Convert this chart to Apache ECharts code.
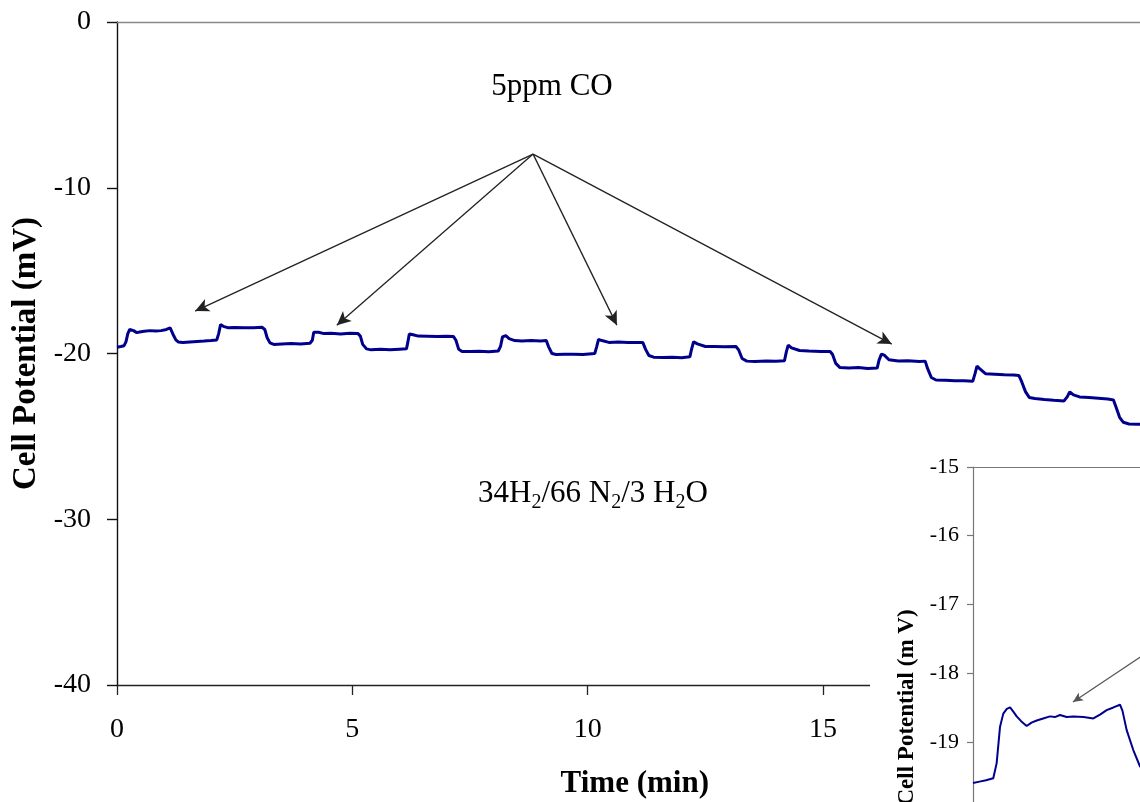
<!DOCTYPE html>
<html><head><meta charset="utf-8">
<script src="https://cdn.jsdelivr.net/npm/echarts@6/dist/echarts.min.js"></script>
<style>html,body{margin:0;padding:0;background:#fff}#c{width:1140px;height:802px}</style>
</head><body><div id="c"></div>
<script>
// ---- main trace: time (min) and cell potential (mV) ----
const timeMin = [
 0.00,0.08,0.15,0.19,0.23,0.27,0.30,0.35,0.42,0.48,0.58,0.70,0.82,0.94,1.05,1.13,1.16,1.20,1.25,1.30,
 1.40,1.55,1.70,1.85,2.00,2.12,2.16,2.20,2.26,2.35,2.50,2.70,2.90,3.08,3.14,3.19,3.25,3.33,3.50,3.70,
 3.90,4.10,4.15,4.18,4.22,4.28,4.40,4.55,4.75,4.95,5.12,5.17,5.22,5.30,5.40,5.60,5.80,6.00,6.15,6.18,
 6.21,6.27,6.40,6.60,6.80,7.00,7.15,7.20,7.26,7.33,7.50,7.70,7.90,8.10,8.15,8.19,8.26,8.33,8.45,8.60,
 8.80,9.00,9.12,9.17,9.24,9.33,9.50,9.70,9.90,10.15,10.19,10.23,10.30,10.45,10.65,10.85,11.05,11.17,11.23,11.30,
 11.40,11.60,11.80,12.00,12.17,12.21,12.25,12.33,12.50,12.70,12.90,13.15,13.21,13.28,13.38,13.55,13.80,14.00,14.18,14.22,
 14.26,14.33,14.50,14.70,14.95,15.15,15.20,15.27,15.36,15.55,15.75,15.95,16.15,16.19,16.24,16.30,16.40,16.60,16.80,17.05,
 17.17,17.22,17.30,17.40,17.60,17.80,18.00,18.18,18.23,18.27,18.32,18.45,18.65,18.85,19.05,19.16,19.22,19.30,19.38,19.50,
 19.70,19.90,20.12,20.19,20.24,20.32,20.45,20.65,20.85,21.05,21.17,21.22,21.30,21.38,21.50,21.70,21.90
];
const potentialMv = [
 -19.62,-19.58,-19.53,-19.30,-18.80,-18.55,-18.50,-18.62,-18.74,-18.70,-18.66,-18.62,-18.64,-18.62,-18.55,-18.46,-18.55,-18.90,-19.18,-19.30,
 -19.33,-19.30,-19.27,-19.25,-19.22,-19.18,-18.80,-18.26,-18.36,-18.44,-18.43,-18.45,-18.44,-18.42,-18.55,-19.05,-19.36,-19.45,-19.42,-19.40,
 -19.42,-19.38,-19.20,-18.72,-18.60,-18.72,-18.80,-18.78,-18.82,-18.78,-18.80,-18.95,-19.45,-19.72,-19.78,-19.75,-19.77,-19.74,-19.72,-19.30,
 -18.82,-18.85,-18.95,-18.96,-18.98,-18.96,-18.98,-19.20,-19.75,-19.88,-19.88,-19.86,-19.90,-19.85,-19.55,-19.00,-18.92,-19.10,-19.22,-19.25,
 -19.22,-19.24,-19.22,-19.60,-20.00,-20.06,-20.05,-20.04,-20.06,-20.00,-19.60,-19.15,-19.22,-19.33,-19.31,-19.33,-19.34,-19.33,-19.75,-20.12,
 -20.22,-20.24,-20.22,-20.25,-20.20,-19.70,-19.29,-19.42,-19.58,-19.58,-19.60,-19.58,-19.80,-20.30,-20.46,-20.48,-20.45,-20.47,-20.44,-19.90,
 -19.49,-19.66,-19.82,-19.85,-19.88,-19.88,-20.05,-20.60,-20.85,-20.88,-20.84,-20.90,-20.88,-20.40,-20.04,-20.10,-20.38,-20.45,-20.44,-20.48,
 -20.46,-20.90,-21.45,-21.60,-21.62,-21.64,-21.65,-21.68,-21.20,-20.76,-20.90,-21.22,-21.25,-21.28,-21.30,-21.32,-21.70,-22.30,-22.65,-22.72,
 -22.78,-22.82,-22.86,-22.60,-22.31,-22.50,-22.62,-22.66,-22.70,-22.75,-22.80,-23.20,-23.85,-24.15,-24.25,-24.27,-24.28
];

// ---- inset trace (first CO step, magnified) ----
const insetTimeMin = [
 0.00,0.05,0.10,0.156,0.182,0.208,0.233,0.26,0.285,0.31,0.336,0.37,0.413,0.45,0.49,0.54,0.592,0.63,0.669,0.72,
 0.772,0.85,0.926,0.98,1.028,1.08,1.131,1.15,1.182,1.233,1.285,1.35
];
const insetPotentialMv = [
 -19.60,-19.58,-19.56,-19.53,-19.31,-18.78,-18.59,-18.52,-18.50,-18.56,-18.63,-18.70,-18.77,-18.72,-18.69,-18.66,-18.63,-18.64,-18.61,-18.64,
 -18.63,-18.64,-18.66,-18.60,-18.54,-18.50,-18.46,-18.55,-18.83,-19.12,-19.36,-19.42
];

// ---- axis ticks ----
const mainYTicks = [0, -10, -20, -30, -40];
const mainXTicks = [0, 5, 10, 15, 20];
const insetYTicks = [-15, -16, -17, -18, -19, -20, -21, -22];

// ---- annotations (data coordinates) ----
const coLabel = '5ppm CO';
const gasLabel = '{n|34H}{s|2}{n|/66 N}{s|2}{n|/3 H}{s|2}{n|O}';
const arrowFrom = [8.84, -7.97];
const arrowTips = [[1.66, -17.44], [4.67, -18.29], [10.62, -18.29], [16.46, -19.43]];
const insetArrowFrom = [1.45, -17.56];
const insetArrowTip = [0.769, -18.42];

const FONT = '"Liberation Serif", "Times New Roman", serif';
const mainData = timeMin.map((t, i) => [t, potentialMv[i]]);
const insetData = insetTimeMin.map((t, i) => [t, insetPotentialMv[i]]);

const chart = echarts.init(document.getElementById('c'), null, {renderer: 'canvas'});
chart.setOption({
  animation: false,
  backgroundColor: '#fff',
  grid: [
    {left: 117, top: 22, width: 22 * 47.07, height: 663, outerBoundsMode: 'none', containLabel: false},
    {left: 973, top: 467, width: 2.5 * 130, height: 7 * 68.7, outerBoundsMode: 'none', containLabel: false}
  ],
  xAxis: [
    {gridIndex: 0, type: 'value', min: mainXTicks[0], max: 22, interval: 5, position: 'bottom', z: 0,
     axisLine: {show: true, onZero: false, lineStyle: {color: '#222', width: 1.3}},
     axisTick: {show: true, length: 10, inside: false, lineStyle: {color: '#222', width: 1.3}},
     axisLabel: {show: true, margin: 31, color: '#000', fontSize: 28, fontFamily: FONT,
       formatter: v => mainXTicks.includes(v) ? String(v) : ''},
     splitLine: {show: false},
     name: 'Time (min)', nameLocation: 'middle', nameGap: 83,
     nameTextStyle: {fontSize: 31, fontWeight: 'bold', fontFamily: FONT, color: '#000'}},
    {gridIndex: 0, type: 'value', min: 0, max: 22, position: 'top', z: 0,
     axisLine: {show: true, onZero: false, lineStyle: {color: '#888', width: 1.3}},
     axisTick: {show: false}, axisLabel: {show: false}, splitLine: {show: false}},
    {gridIndex: 1, type: 'value', min: 0, max: 2.5, position: 'bottom', show: false,
     axisLine: {onZero: false}},
    {gridIndex: 1, type: 'value', min: 0, max: 2.5, position: 'top', z: 3,
     axisLine: {show: true, onZero: false, lineStyle: {color: '#777', width: 1.2}},
     axisTick: {show: false}, axisLabel: {show: false}, splitLine: {show: false}}
  ],
  yAxis: [
    {gridIndex: 0, type: 'value', min: -40, max: 0, interval: 10, z: 0,
     axisLine: {show: true, onZero: false, lineStyle: {color: '#111', width: 1.4}},
     axisTick: {show: true, length: 10, lineStyle: {color: '#111', width: 1.4}},
     axisLabel: {margin: 26, color: '#000', fontSize: 28, fontFamily: FONT,
       formatter: v => mainYTicks.includes(v) ? String(v) : ''},
     splitLine: {show: false},
     name: 'Cell Potential (mV)', nameLocation: 'middle', nameGap: 74, nameRotate: 90,
     nameTextStyle: {fontSize: 33, fontWeight: 'bold', fontFamily: FONT, color: '#000'}},
    {gridIndex: 1, type: 'value', min: -22, max: -15, interval: 1, z: 3,
     axisLine: {show: true, onZero: false, lineStyle: {color: '#777', width: 1.2}},
     axisTick: {show: true, length: 6, lineStyle: {color: '#777', width: 1.2}},
     axisLabel: {margin: 14, color: '#000', fontSize: 22, fontFamily: FONT,
       formatter: v => insetYTicks.includes(v) ? String(v) : ''},
     splitLine: {show: false},
     name: 'Cell Potential (m V)', nameLocation: 'middle', nameGap: 54, nameRotate: 90,
     nameTextStyle: {fontSize: 23, fontWeight: 'bold', fontFamily: FONT, color: '#000'}}
  ],
  series: [
    {type: 'line', xAxisIndex: 0, yAxisIndex: 0, data: mainData, showSymbol: false, z: 2,
     lineStyle: {color: '#00008c', width: 3}, silent: true,
     markLine: {silent: true, symbol: ['none', 'arrow'], symbolSize: [10, 14],
       label: {show: false}, lineStyle: {color: '#222', width: 1.3, type: 'solid'},
       emphasis: {disabled: true},
       data: arrowTips.map(tip => [{coord: arrowFrom}, {coord: tip}])}},
    {type: 'line', xAxisIndex: 2, yAxisIndex: 1, data: insetData, showSymbol: false, z: 5,
     lineStyle: {color: '#00008c', width: 2}, silent: true,
     markLine: {silent: true, symbol: ['none', 'arrow'], symbolSize: [7, 10],
       label: {show: false}, lineStyle: {color: '#555', width: 1.2, type: 'solid'},
       emphasis: {disabled: true},
       data: [[{coord: insetArrowFrom}, {coord: insetArrowTip}]]}}
  ],
  graphic: [
    {type: 'rect', z: 1, silent: true, shape: {x: 870, y: 452, width: 270, height: 350},
     style: {fill: '#fff'}},
    {type: 'text', z: 10, silent: true, x: 552, y: 87,
     style: {text: coLabel, fontSize: 31, fontFamily: FONT, fill: '#000', align: 'center', verticalAlign: 'middle'}},
    {type: 'text', z: 10, silent: true, x: 478, y: 494,
     style: {text: gasLabel, align: 'left', verticalAlign: 'middle', fill: '#000',
       rich: {
         n: {fontSize: 31, fontFamily: FONT, lineHeight: 38, verticalAlign: 'middle', fill: '#000'},
         s: {fontSize: 20, fontFamily: FONT, lineHeight: 17, verticalAlign: 'bottom', fill: '#000'}
       }}}
  ]
});
</script></body></html>
